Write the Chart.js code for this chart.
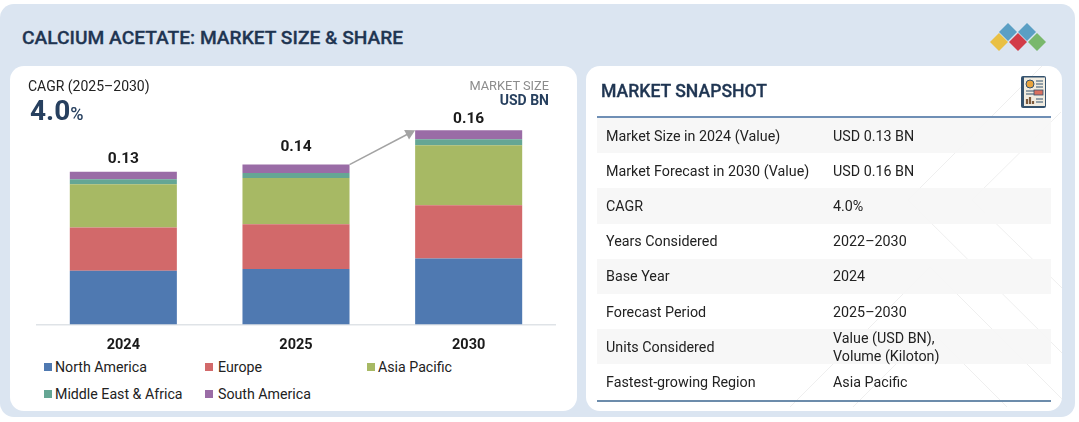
<!DOCTYPE html>
<html>
<head>
<meta charset="utf-8">
<title>Calcium Acetate: Market Size & Share</title>
<script src="https://cdn.jsdelivr.net/npm/chart.js@4"></script>
<style>
  html, body { margin: 0; padding: 0; background: #fff; }
  body { width: 1079px; height: 422px; position: relative; overflow: hidden; font-family: Roboto, sans-serif; color: #1c1c1c; }
  .abs { position: absolute; white-space: nowrap; }
  #panel { position: absolute; left: 0; top: 4px; width: 1075px; height: 413px; background: #dbe5f1; border-radius: 14px; }
  .card { position: absolute; top: 66px; height: 345px; background: #fff; border-radius: 14px; overflow: hidden; }
  #left { left: 10px; width: 567px; }
  #right { left: 586px; width: 476px; }
  #title { left: 22px; top: 26px; font-size: 19.2px; font-weight: 500; color: #1f3552; -webkit-text-stroke: .3px #1f3552; }
  #chart { position: absolute; left: 0; top: 0; }
  #legend span.sw { position: absolute; width: 8px; height: 8px; }
  #legend div { position: absolute; font-size: 14.2px; color: #222; white-space: nowrap; line-height: 16px; }
  #deco { position: absolute; left: 0; top: 0; }
  #rows { position: absolute; left: 11px; top: 50px; width: 454px; border-top: 2px solid #6f8fb5; border-bottom: 2px solid #6c8cab; }
  .row { position: relative; height: 35.2px; font-size: 14.3px; color: #222; }
  .row:nth-child(odd) { background: rgba(246,246,246,.92); }
  .row b { font-weight: 400; position: absolute; left: 9px; top: 50%; transform: translateY(-50%); white-space: nowrap; }
  .row i { font-style: normal; position: absolute; left: 236px; top: 50%; transform: translateY(-50%); line-height: 18px; white-space: pre; }
</style>
</head>
<body>
<div id="panel"></div>
<div class="abs" id="title">CALCIUM ACETATE: MARKET SIZE &amp; SHARE</div>

<svg class="abs" style="left:985px;top:20px" width="66" height="36" viewBox="985 20 66 36">
  <polygon points="1008,23 1017,32 1008,41 999,32" fill="#5b9fc4"/>
  <polygon points="1027,23 1036,32 1027,41 1018,32" fill="#5b9fc4"/>
  <polygon points="999,33 1008,42 999,51 990,42" fill="#e9c044"/>
  <polygon points="1018,33 1027,42 1018,51 1009,42" fill="#d23c48"/>
  <polygon points="1037,33 1046,42 1037,51 1028,42" fill="#79b86c"/>
</svg>

<div class="card" id="left">
  <canvas id="chart" width="567" height="292"></canvas>
  <div class="abs" style="left:18px;top:12px;font-size:14px;color:#222">CAGR (2025–2030)</div>
  <div class="abs" style="left:20px;top:28px;font-size:28px;font-weight:700;color:#27405f">4.0<span style="font-size:18px;font-weight:500">%</span></div>
  <div class="abs" style="right:28px;top:12px;font-size:12.8px;color:#8c8c8c">MARKET SIZE</div>
  <div class="abs" style="right:28px;top:26px;font-size:14px;font-weight:700;color:#27405f">USD BN</div>
  <div id="legend"></div>
</div>

<div class="card" id="right">
  <svg id="deco" width="476" height="345" fill="none" stroke="#efefef" stroke-width="1">
    <path d="M475 -19 L322 134 L476 287"/>
    <path d="M475 46 L386 134 L476 222"/>
    <path d="M204 341 L344 201 L421 278 L484 341"/>
    <path d="M267 341 L344 264 L421 341"/>
  </svg>
  <div class="abs" style="left:15px;top:15px;font-size:17.6px;font-weight:500;color:#1f3552;-webkit-text-stroke:.3px #1f3552">MARKET SNAPSHOT</div>
  <svg class="abs" style="left:434px;top:9px" width="28" height="34" viewBox="0 0 28 34">
    <rect x="1" y="1" width="25" height="32" rx="2" fill="#34526e"/>
    <rect x="4" y="2.5" width="21" height="28.5" fill="#f1ece0"/>
    <circle cx="10" cy="9" r="4" fill="#e8a33d" stroke="#34526e"/>
    <path d="M16 6h7M16 9h7M16 12h7M6 16h8M6 19h8" stroke="#34526e" stroke-width="1.2"/>
    <rect x="14" y="15" width="9" height="5" fill="#d9705f" stroke="#34526e" stroke-width=".8"/>
    <path d="M7 29v-5M10 29v-7M13 29v-3" stroke="#7d5a3c" stroke-width="2.2"/>
    <path d="M16 24h7M16 27h7" stroke="#34526e" stroke-width="1.2"/>
  </svg>
  <div id="rows"></div>
</div>

<script>
/* ─── Data ───────────────────────────────────────────────── */
const categories = ['2024', '2025', '2030'];
const totalLabels = ['0.13', '0.14', '0.16'];
const northAmerica = [0.0443, 0.0457, 0.0545];
const europe = [0.0357, 0.0370, 0.0439];
const asiaPacific = [0.0356, 0.0381, 0.0494];
const middleEastAfrica = [0.0041, 0.0041, 0.0049];
const southAmerica = [0.0063, 0.0069, 0.0074];

const snapshotLabels = ['Market Size in 2024 (Value)', 'Market Forecast in 2030 (Value)', 'CAGR', 'Years Considered', 'Base Year', 'Forecast Period', 'Units Considered', 'Fastest-growing Region'];
const snapshotValues = ['USD 0.13 BN', 'USD 0.16 BN', '4.0%', '2022–2030', '2024', '2025–2030', 'Value (USD BN),\nVolume (Kiloton)', 'Asia Pacific'];

/* ─── Snapshot table ─────────────────────────────────────── */
document.getElementById('rows').innerHTML = snapshotLabels
  .map((label, i) => `<div class="row"><b>${label}</b><i>${snapshotValues[i]}</i></div>`)
  .join('');

/* ─── Totals above the stacks + growth arrow ─────────────── */
const labelGaps = [5, 10, 3];

const stackExtras = {
  id: 'stackExtras',
  afterDatasetsDraw(chart) {
    const { ctx } = chart;
    const last = chart.getDatasetMeta(chart.data.datasets.length - 1).data;

    ctx.save();
    ctx.fillStyle = '#1a1a1a';
    ctx.font = '700 15.5px Roboto, sans-serif';
    ctx.textAlign = 'center';
    ctx.textBaseline = 'bottom';
    last.forEach((bar, i) => ctx.fillText(totalLabels[i], bar.x, bar.y - labelGaps[i]));

    // arrow from top right of the 2025 bar to top left of the 2030 bar
    const from = last[1], to = last[2];
    const x1 = from.x + from.width / 2, y1 = from.y;
    const x2 = to.x - to.width / 2, y2 = to.y;
    const angle = Math.atan2(y2 - y1, x2 - x1);
    ctx.strokeStyle = ctx.fillStyle = '#a3a3a3';
    ctx.lineWidth = 1.5;
    ctx.beginPath();
    ctx.moveTo(x1, y1);
    ctx.lineTo(x2 - 6 * Math.cos(angle), y2 - 6 * Math.sin(angle));
    ctx.stroke();
    ctx.beginPath();
    ctx.moveTo(x2, y2);
    ctx.lineTo(x2 - 11 * Math.cos(angle - 0.5), y2 - 11 * Math.sin(angle - 0.5));
    ctx.lineTo(x2 - 11 * Math.cos(angle + 0.5), y2 - 11 * Math.sin(angle + 0.5));
    ctx.closePath();
    ctx.fill();
    ctx.restore();
  },
};

/* ─── Chart ──────────────────────────────────────────────── */
const chart = new Chart(document.getElementById('chart'), {
  type: 'bar',
  data: {
    labels: categories,
    datasets: [
      { label: 'North America', data: northAmerica, backgroundColor: '#4f79b1' },
      { label: 'Europe', data: europe, backgroundColor: '#d2696a' },
      { label: 'Asia Pacific', data: asiaPacific, backgroundColor: '#a7b964' },
      { label: 'Middle East & Africa', data: middleEastAfrica, backgroundColor: '#65a694' },
      { label: 'South America', data: southAmerica, backgroundColor: '#9a6ca6' },
    ],
  },
  options: {
    responsive: false,
    animation: false,
    layout: { padding: { left: 27, right: 22, top: 34, bottom: 0 } },
    datasets: { bar: { categoryPercentage: 0.62, barPercentage: 1 } },
    plugins: { legend: { display: false }, tooltip: { enabled: false } },
    scales: {
      x: {
        stacked: true,
        grid: { display: false },
        border: { color: '#dfe3e7', width: 1.5 },
        ticks: { color: '#1a1a1a', font: { family: 'Roboto, sans-serif', size: 14.5, weight: '700' }, padding: 4, maxRotation: 0 },
      },
      y: { stacked: true, display: false, min: 0, max: 0.185 },
    },
  },
  plugins: [stackExtras],
});

/* ─── Legend (two rows, fixed columns) ───────────────────── */
const legendCols = [34, 195, 357];
const legendTextCols = [45, 208, 368];
document.getElementById('legend').innerHTML = chart.data.datasets.map((ds, i) => {
  const y = i < 3 ? 293 : 320;
  return `<span class="sw" style="left:${legendCols[i % 3]}px;top:${y + 4}px;background:${ds.backgroundColor}"></span>` +
         `<div style="left:${legendTextCols[i % 3]}px;top:${y}px">${ds.label}</div>`;
}).join('');
</script>
</body>
</html>
